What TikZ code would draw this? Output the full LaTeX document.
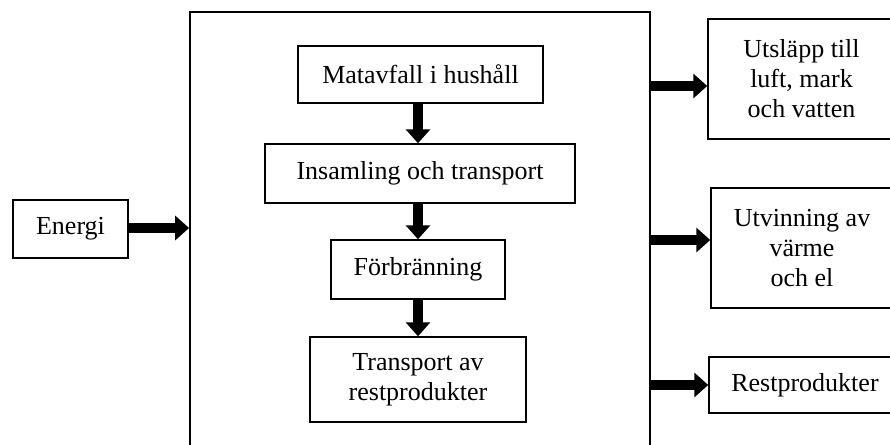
\documentclass[tikz,border=0pt]{standalone}
\usepackage{fontspec}
\setmainfont{Liberation Serif}
\usetikzlibrary{arrows.meta}
\begin{document}
\begin{tikzpicture}[x=1pt,y=-1pt,
  box/.style={draw, line width=1.5pt, inner sep=0pt, align=center,
    font=\fontsize{26}{30}\selectfont},
  flow/.style={line width=10pt, -{Triangle[width=24pt,length=14pt]}}]
\useasboundingbox (0,0) rectangle (890,444);
\clip (0,0) rectangle (890,444);
\fill[white] (0,0) rectangle (890,444);

% surrounding system boundary
\node[draw, line width=1.8pt, inner sep=0pt, minimum width=460pt, minimum height=450pt] (sys) at (420,237) {};

% input
\node[box, minimum width=115pt, minimum height=58pt] (energi) at (70.5,229) {Energi};

% process chain
\node[box, minimum width=245pt, minimum height=57pt] (mat) at (420.5,74.5) {Matavfall i hushåll};
\node[box, minimum width=310pt, minimum height=59pt] (ins) at (420,173.5) {Insamling och transport};
\node[box, minimum width=174pt, minimum height=59pt] (forb) at (418,269.5) {Förbränning};
\node[box, minimum width=216pt, minimum height=85pt] (trans) at (418,379.5) {Transport av\\restprodukter};

% outputs
\node[box, minimum width=187pt, minimum height=120pt] (utslapp) at (801.5,79) {Utsläpp till\\luft, mark\\och vatten};
\node[box, minimum width=182pt, minimum height=120pt] (utvinning) at (802,248) {Utvinning av\\värme\\och el};
\node[box, minimum width=192pt, minimum height=56pt] (rest) at (805,385) {Restprodukter};

% arrows
\draw[flow] (energi.east |- 0,228) -- (sys.west |- 0,228);
\draw[flow] (mat.south -| 418,0) -- (ins.north -| 418,0);
\draw[flow] (ins.south -| 418,0) -- (forb.north -| 418,0);
\draw[flow] (forb.south) -- (trans.north);

\coordinate (o1) at (sys.east |- 0,86);
\coordinate (o2) at (sys.east |- 0,240);
\coordinate (o3) at (sys.east |- 0,385);
\draw[flow] (o1) -- (utslapp.west |- o1);
\draw[flow] (o2) -- (utvinning.west |- o2);
\draw[flow] (o3) -- (rest.west |- o3);
\end{tikzpicture}
\end{document}
